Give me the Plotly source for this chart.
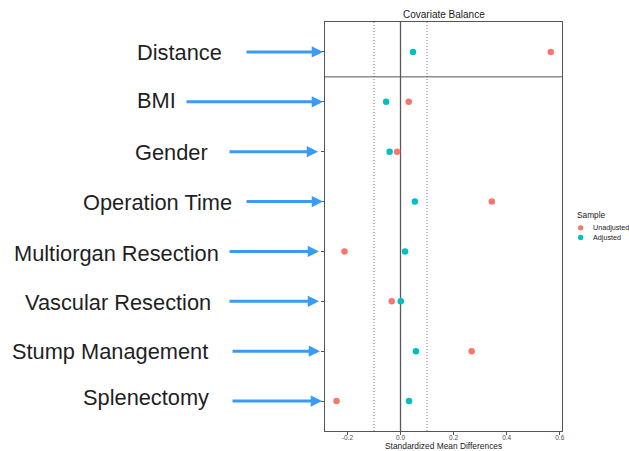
import plotly.graph_objects as go

# ---- data ----
covariates = ["Distance", "BMI", "Gender", "Operation Time",
              "Multiorgan Resection", "Vascular Resection",
              "Stump Management", "Splenectomy"]
unadjusted = [0.566, 0.031, -0.013, 0.344, -0.211, -0.033, 0.268, -0.241]
adjusted = [0.047, -0.054, -0.041, 0.054, 0.017, 0.001, 0.058, 0.032]
x_ticks = [-0.2, 0.0, 0.2, 0.4, 0.6]
threshold = 0.1

# ---- layout constants (pixels) ----
W, H = 629, 451
PL, PR, PT, PB = 325, 562.3, 22, 430.7


def px_x(p):
    return (p - PL) / (PR - PL)


def px_y(p):
    return (PB - p) / (PB - PT)


label_left_px = [135, 135, 133, 81, 12, 23, 10, 81]
label_shift = [-1, 1, -1, -1, -2, -1, 0, 4]
arrow_tail_px = [245, 185, 228, 245, 228, 228, 231, 231]
arrow_head_px = [323, 323, 318, 323, 319, 319, 320, 322]

RED = "#F8766D"
TEAL = "#00BFC4"
BLUE = "#3A9BF7"
FONT = "Liberation Sans"

fig = go.Figure()
fig.add_trace(go.Scatter(x=unadjusted, y=covariates, mode="markers", name="Unadjusted",
                         marker=dict(color=RED, size=6.5, line=dict(width=0)),
                         showlegend=False))
fig.add_trace(go.Scatter(x=adjusted, y=covariates, mode="markers", name="Adjusted",
                         marker=dict(color=TEAL, size=6.5, line=dict(width=0)),
                         showlegend=False))

shapes = []
# reference lines
shapes.append(dict(type="line", xref="x", yref="paper", x0=0, x1=0, y0=0, y1=1,
                   line=dict(color="#5a5a5a", width=1.3), layer="below"))
for t in (-threshold, threshold):
    shapes.append(dict(type="line", xref="x", yref="paper", x0=t, x1=t, y0=0, y1=1,
                       line=dict(color="#777777", width=1, dash="1px,2px"), layer="below"))
# facet separator between distance and covariates
shapes.append(dict(type="line", xref="paper", yref="y", x0=0, x1=1, y0=0.5, y1=0.5,
                   line=dict(color="#555555", width=1)))
# legend keys
for yy, col in ((227.7, RED), (237.3, TEAL)):
    r = 2.7
    shapes.append(dict(type="circle", xref="paper", yref="paper",
                       x0=px_x(581 - r), x1=px_x(581 + r), y0=px_y(yy + r), y1=px_y(yy - r),
                       fillcolor=col, line=dict(width=0)))

annotations = []
for i, name in enumerate(covariates):
    annotations.append(dict(text=name, xref="paper", yref="y", x=px_x(label_left_px[i]), y=name,
                            xanchor="left", yanchor="middle", showarrow=False,
                            yshift=label_shift[i],
                            font=dict(family=FONT, size=21.8, color="#1f1f1f")))
    annotations.append(dict(text="", xref="paper", yref="y", x=px_x(arrow_head_px[i]), y=name,
                            ax=-(arrow_head_px[i] - arrow_tail_px[i]), ay=0,
                            showarrow=True, arrowhead=2, arrowsize=0.75, arrowwidth=3,
                            arrowcolor=BLUE, standoff=0))

annotations.append(dict(text="Covariate Balance", xref="paper", yref="paper", x=0.5, y=px_y(14.5),
                        xanchor="center", yanchor="middle", showarrow=False,
                        font=dict(family=FONT, size=10, color="#1a1a1a")))
annotations.append(dict(text="Standardized Mean Differences", xref="paper", yref="paper",
                        x=px_x(444), y=px_y(445.5), xanchor="center", yanchor="middle",
                        showarrow=False, font=dict(family=FONT, size=8.4, color="#1a1a1a")))
annotations.append(dict(text="Sample", xref="paper", yref="paper", x=px_x(575), y=px_y(215),
                        xanchor="left", yanchor="middle", showarrow=False,
                        font=dict(family=FONT, size=8.3, color="#1a1a1a")))
for yy, txt in ((227.7, "Unadjusted"), (237.3, "Adjusted")):
    annotations.append(dict(text=txt, xref="paper", yref="paper", x=px_x(591.7), y=px_y(yy),
                            xanchor="left", yanchor="middle", showarrow=False,
                            font=dict(family=FONT, size=7.2, color="#1a1a1a")))

fig.update_layout(
    width=W, height=H,
    margin=dict(l=PL, r=W - PR, t=PT, b=H - PB, pad=0, autoexpand=False),
    paper_bgcolor="white", plot_bgcolor="white",
    showlegend=False,
    shapes=shapes, annotations=annotations,
    xaxis=dict(range=[-0.2845, 0.6085], tickvals=x_ticks,
               ticktext=[f"{v:.1f}" for v in x_ticks], automargin=False,
               showgrid=False, zeroline=False, showline=True, mirror=True,
               linecolor="#555555", linewidth=1, ticks="outside", ticklen=3,
               ticklabelstandoff=-3,
               tickcolor="#555555", tickfont=dict(family=FONT, size=6.5, color="#4d4d4d")),
    yaxis=dict(type="category", categoryorder="array", categoryarray=covariates,
               range=[7.6, -0.6], showticklabels=False, automargin=False,
               showgrid=False, zeroline=False, showline=True, mirror=True,
               linecolor="#555555", linewidth=1, ticks="outside", ticklen=3,
               tickcolor="#555555"),
)

fig.write_html("out.html", config={"displayModeBar": False},
               post_script="document.body.style.margin='0';document.body.style.overflow='hidden';")
